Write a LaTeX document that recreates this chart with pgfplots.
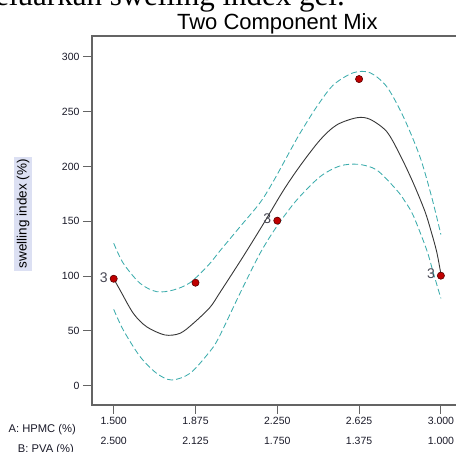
\documentclass[border=0pt]{standalone}
\usepackage{pgfplots}
\pgfplotsset{compat=1.18}
\usepackage{fontspec}
\setmainfont{Liberation Sans}
\newfontfamily\timesfont{Liberation Serif}
\definecolor{axisgray}{RGB}{100,100,100}
\definecolor{ticktext}{RGB}{25,25,40}
\definecolor{bandteal}{RGB}{60,172,172}
\definecolor{fitline}{RGB}{55,55,55}
\definecolor{dotred}{RGB}{192,0,0}
\definecolor{dotdark}{RGB}{90,0,0}
\definecolor{lblbg}{RGB}{220,224,243}
\begin{document}
\begin{tikzpicture}[x=1pt,y=1pt]
\node[anchor=base east, font=\timesfont\fontsize{31}{36}\selectfont, inner sep=0pt] at (253,399.5) {mengeluarkan swelling index gel.};
\begin{axis}[
  at={(0,0)}, anchor=south west,
  scale only axis, width=370.7pt, height=369pt,
  xmin=1.4005, xmax=3.1, ymin=-17.6, ymax=319.1,
  axis line style={draw=axisgray, line width=1.3pt},
  xtick={1.5,1.875,2.25,2.625,3.0},
  xticklabels={{1.500\\2.500},{1.875\\2.125},{2.250\\1.750},{2.625\\1.375},{3.000\\1.000}},
  xticklabel style={align=center, font=\fontsize{10.5}{20}\selectfont, text=ticktext},
  ytick={0,50,100,150,200,250,300},
  yticklabel style={font=\fontsize{10.5}{12}\selectfont, text=ticktext},
  /pgf/number format/assume math mode=true,
  tick align=outside, major tick length=9pt,
  tick style={draw=axisgray, line width=1pt},
  xtick pos=bottom, ytick pos=left,
  title={Two Component Mix},
  every axis title/.style={at={(0.5,1)}, anchor=base, yshift=6pt, font=\fontsize{22}{26}\selectfont},
  ylabel={swelling index (\%)},
  every axis y label/.style={at={(axis description cs:-0.186,0.518)}, rotate=90, anchor=center, fill=lblbg, inner sep=2.5pt, font=\fontsize{13.5}{16}\selectfont},
  clip=false,
]
% fitted curve
\addplot[smooth, color=fitline, line width=0.9pt] coordinates {
(1.5,97.6) (1.529,87.3) (1.590,66.0) (1.651,53.8) (1.735,46.3) (1.804,47.8)
(1.865,56.9) (1.9415,71.5) (1.987,85.0) (2.094,118.0) (2.186,147.6) (2.278,178.2)
(2.354,200.5) (2.446,224.2) (2.522,237.9) (2.614,244.5) (2.675,243.1) (2.752,231.8)
(2.813,210.5) (2.874,184.7) (2.927,159.0) (2.955,141.0) (2.981,122.0) (3.0,102.0)
};
% upper band
\addplot[smooth, color=bandteal, line width=0.85pt, dash pattern=on 6pt off 3pt] coordinates {
(1.5,130.0) (1.544,111.7) (1.621,93.4) (1.697,85.8) (1.773,87.3) (1.850,94.0)
(1.934,110.0) (1.987,123.0) (2.079,145.0) (2.171,167.0) (2.232,186.5) (2.308,214.0)
(2.354,230.3) (2.431,254.6) (2.507,274.4) (2.599,285.6) (2.675,285.6) (2.752,272.8)
(2.828,245.4) (2.904,208.9) (2.958,172.0) (3.0,138.0)
};
% lower band
\addplot[smooth, color=bandteal, line width=0.85pt, dash pattern=on 6pt off 3pt] coordinates {
(1.5,69.7) (1.544,50.8) (1.621,26.5) (1.697,11.3) (1.766,5.2) (1.850,11.3)
(1.934,29.6) (1.98,43.2) (2.079,84.3) (2.171,120.8) (2.247,145.1) (2.339,169.4)
(2.446,190.7) (2.537,200.5) (2.622,202.0) (2.706,196.8) (2.797,178.6) (2.836,168.0)
(2.874,155.0) (2.935,123.8) (2.966,102.6) (3.0,79.7)
};
% design points
\addplot[only marks, mark=*, mark size=3.6pt, mark options={fill=dotred, draw=dotdark, line width=0.6pt}] coordinates {
(1.5,97.6) (1.875,94.0) (2.25,150.6) (2.625,279.8) (3.0,100.4)
};
% replicate counts
\addplot[draw=none, mark=none, nodes near coords={3},
  every node near coord/.style={anchor=east, xshift=-2.5pt, yshift=1.5pt, text=ticktext!80!white, font=\fontsize{14}{16}\selectfont}] coordinates {
(1.5,97.6) (2.25,150.6) (3.0,100.4)
};
\end{axis}
\node[anchor=base east, font=\fontsize{11.2}{13}\selectfont, text=ticktext, inner sep=0pt] at (-16,-27.3) {A: HPMC (\%)};
\node[anchor=base east, font=\fontsize{11.2}{13}\selectfont, text=ticktext, inner sep=0pt] at (-18,-47.3) {B: PVA (\%)};
\pgfresetboundingbox
\useasboundingbox (-92,-47) rectangle (364,405);
\end{tikzpicture}
\end{document}
